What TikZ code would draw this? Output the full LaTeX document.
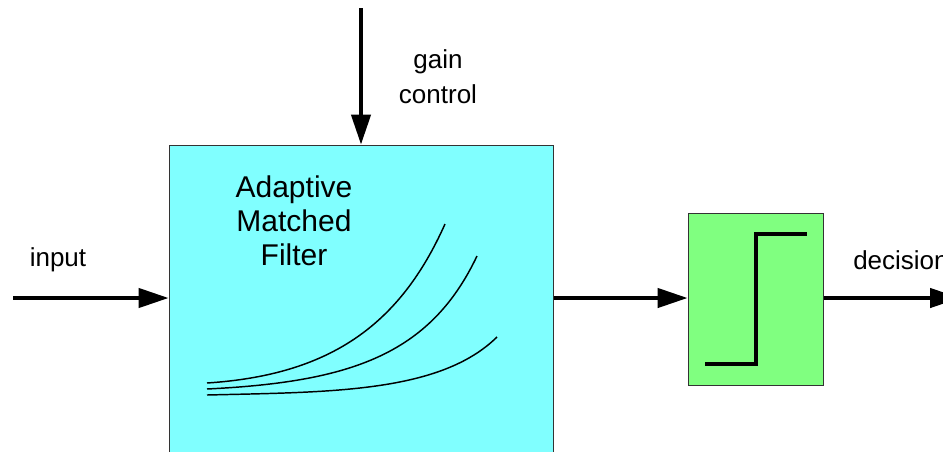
\documentclass[tikz,border=0pt]{standalone}
\usepackage{fontspec}
\setmainfont{Liberation Sans}
\usetikzlibrary{arrows.meta}
\begin{document}
\begin{tikzpicture}[x=0.75pt,y=-0.75pt,
  flow/.style={line width=2.6pt,-{Triangle[length=22.5pt 0 0,width=14.5pt 0 0]}},
  block/.style={draw=black!80,line width=0.75pt,inner sep=0pt},
  lbl/.style={font=\fontsize{19.5pt}{24pt}\selectfont,inner sep=0pt},
  title/.style={font=\fontsize{22.5pt}{25.5pt}\selectfont,inner sep=0pt,align=center},
  curve/.style={line width=1.1pt,black}]
\useasboundingbox (0,0) rectangle (943,451);
\clip (0,0) rectangle (943,451);

% adaptive matched filter block (runs past the lower edge)
\node[block,fill={rgb,255:red,128;green,255;blue,255},minimum width=288pt,minimum height=243.75pt] (filt) at (361,307.5) {};
% slicer block
\node[block,fill={rgb,255:red,128;green,255;blue,128},minimum width=101.25pt,minimum height=129pt] (dec) at (755.5,299) {};

% signal endpoints
\coordinate (src) at (13,298);
\coordinate (gtop) at (361,8);
\coordinate (sink) at (960,298);

% connectors
\draw[flow] (src) -- (src -| filt.west);
\draw[flow] (gtop) -- (filt.north);
\draw[flow] (filt.east |- src) -- (dec.west |- src);
\draw[flow] (dec.east |- src) -- (sink);

% labels
\node[lbl] (lin) at (58,260) {input};
\node[lbl] (lg1) at (438,62) {gain};
\node[lbl] (lg2) at (438,94) {control};
\node[lbl,anchor=west] (lout) at (853,260) {decision};
\node[title] (ttl) at (294,221) {Adaptive\\Matched\\Filter};

% response curves inside the filter
\draw[curve] (207,383) .. controls (330,375) and (400,325) .. (445,224);
\draw[curve] (207,389) .. controls (350,382) and (430,355) .. (477,256);
\draw[curve] (207,395) .. controls (330,392) and (440,393) .. (497,337);

% hard-decision step
\draw[line width=2.3pt] (705,364) -- (756,364) -- (756,234) -- (807,234);
\end{tikzpicture}
\end{document}
